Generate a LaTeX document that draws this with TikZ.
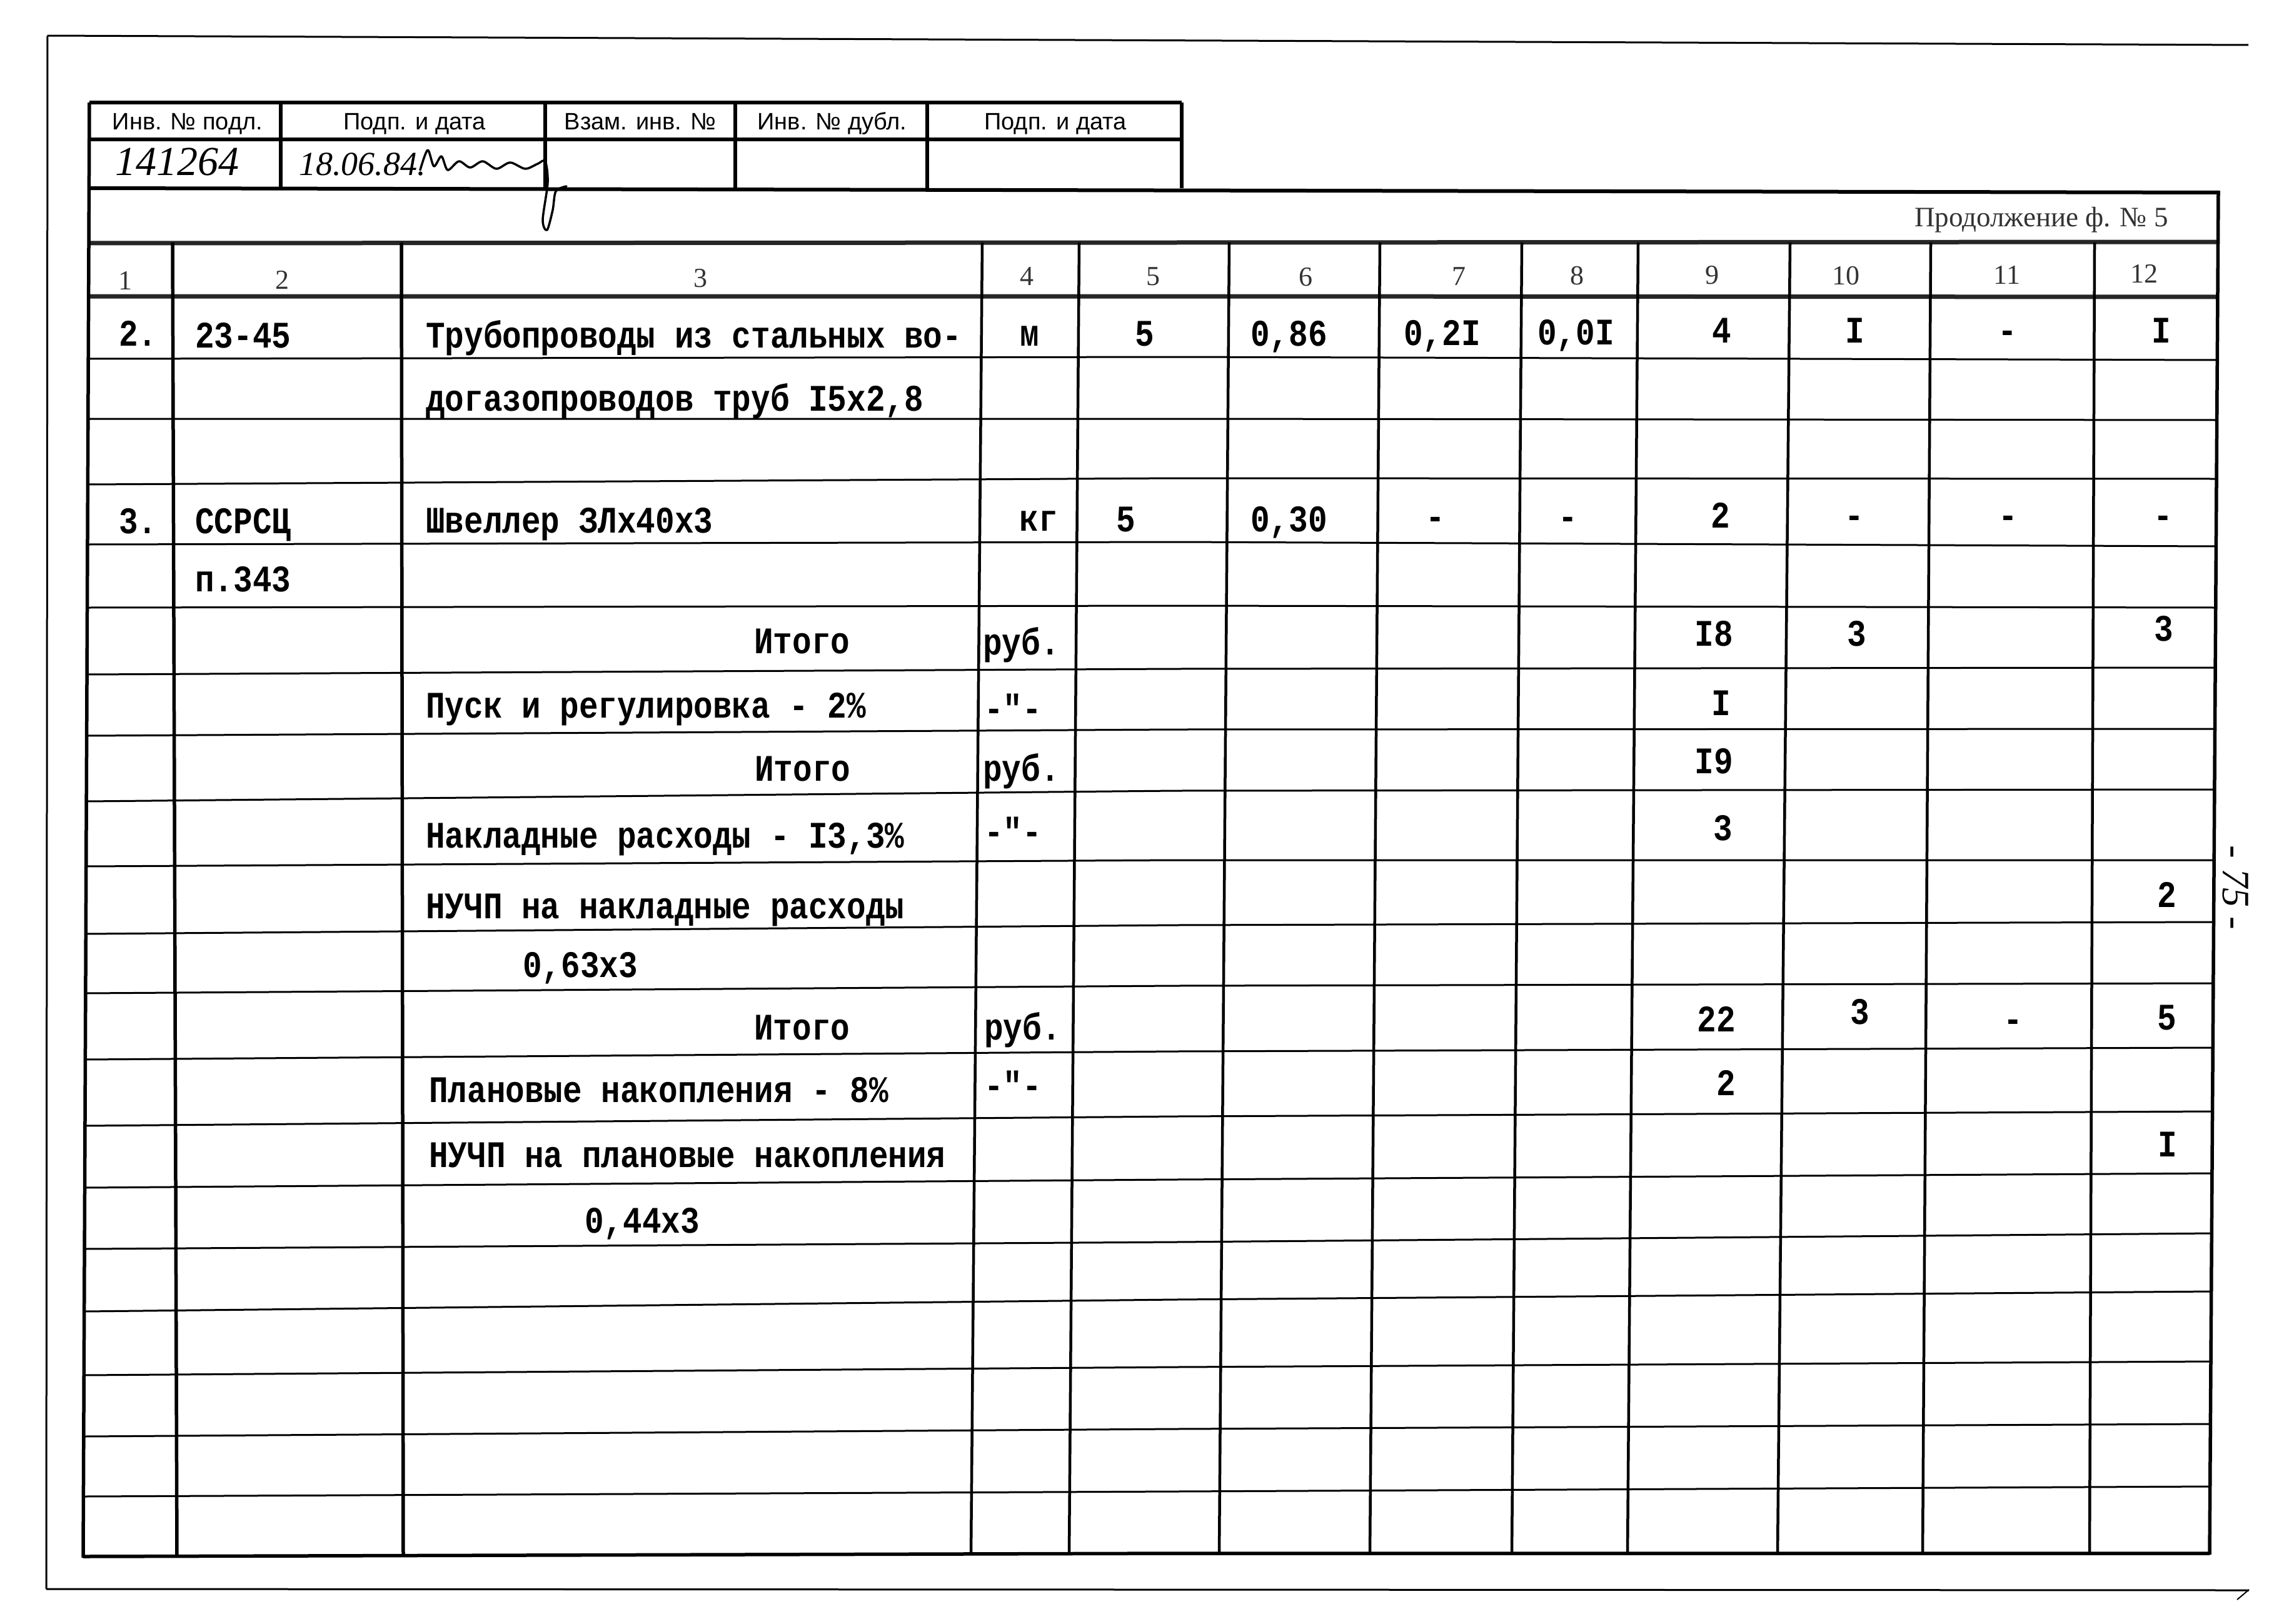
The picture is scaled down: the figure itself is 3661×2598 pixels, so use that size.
\documentclass[tikz,border=0pt]{standalone}
\usepackage{fontspec}
\newfontfamily\twfam[FakeStretch=0.85]{Liberation Mono}
\newfontfamily\stampfam{Liberation Sans}
\newfontfamily\handfam{Liberation Serif}
\newcommand\fTW{\twfam\bfseries\fontsize{60}{60}\selectfont}
\newcommand\fHN{\handfam\fontsize{44}{44}\selectfont}
\newcommand\fPR{\handfam\fontsize{45}{46}\selectfont}
\newcommand\fST{\stampfam\fontsize{38}{38}\selectfont}
\newcommand\fHW{\handfam\itshape\fontsize{66}{66}\selectfont}
\newcommand\fHWs{\handfam\itshape\fontsize{54}{54}\selectfont}
\newcommand\fPG{\handfam\itshape\fontsize{62}{62}\selectfont}
\begin{document}
\begin{tikzpicture}[x=1pt,y=-1pt,
  tw/.style={inner sep=0pt,font=\fTW},
  bw/.style={tw,anchor=base west},
  bc/.style={tw,anchor=base},
  hnum/.style={inner sep=0pt,anchor=base,font=\fHN,text=black!80},
  st/.style={inner sep=0pt,anchor=base,font=\fST},
  frameline/.style={line width=3pt},
  stampline/.style={line width=6pt},
  headline/.style={line width=7pt,black!85},
  border/.style={line width=5.5pt},
  vgrid/.style={line width=4.5pt},
  hgrid/.style={line width=3pt},
  hwline/.style={line width=3.5pt,line cap=round,line join=round}]
\path[use as bounding box,fill=white] (0,0) rectangle (3661,2598);

% outer page frame
\draw[frameline] (76,57) -- (3596,72);
\draw[frameline] (76,57) -- (74,2542);
\draw[frameline] (74,2542) -- (3597,2544);
\draw[line width=2pt] (3578,2559) -- (3597,2543);

% stamp
\draw[stampline] (143,164) -- (1890,164);
\draw[stampline] (143,223) -- (1890,223);
\foreach \x in {448.5,872,1176,1483,1890} \draw[stampline] (\x,164) -- (\x,301);
\draw[stampline] (143,301) -- (3548,308);

% header lines
\draw[headline] (143,389) -- (1880,388) -- (3548,387);
\draw[headline] (142,474) -- (1880,474) -- (3547,475);

% row lines
\foreach \yl/\ym/\yr in {574/571/576,670/670/672,775/765/766,871/867/874,972/969/972,
  1079/1070/1068,1177/1167/1166,1282/1265/1263,1386/1376/1376,1494/1480/1475,
  1589/1577/1573,1695/1682/1676,1801/1786/1778,1900/1887/1877,1998/1987/1973,
  2098/2079/2066,2200/2187/2178,2298/2286/2278,2394/2386/2378}
  \draw[hgrid] ({143-0.00457*(\yl-300)},\yl) -- (1880,\ym) -- ({3548-0.00643*(\yr-308)},\yr);
\draw[border] (133,2490) -- (1880,2485) -- (3534,2485);

% vertical lines
\foreach \xt/\xb in {1571/1553,1726/1710,1966/1950,2207/2191,2434/2418,2620/2603,2863/2843,3088/3075,3350/3342}
  \draw[vgrid] (\xt,388) -- (\xb,2487);
\draw[border] (276,388) -- (283,2490);
\draw[border] (642,388) -- (645,2489);
\draw[border] (143,164) -- (133,2492);
\draw[border] (3548,305) -- (3534,2487);

% stamp texts
\node[st] (s1) at (300,208) {Инв. № подл.};
\node[st] (s2) at (663,208) {Подп. и дата};
\node[st] (s3) at (1024,208) {Взам. инв. №};
\node[st] (s4) at (1331,208) {Инв. № дубл.};
\node[st] (s5) at (1688,208) {Подп. и дата};
\node[inner sep=0pt,anchor=base west,font=\fHW] (h1) at (184,280) {141264};
\node[inner sep=0pt,anchor=base west,font=\fHWs] (h2) at (478,280) {18.06.84.};
\draw[hwline] plot[smooth] coordinates {(672,272) (684,240) (694,266) (706,250) (716,272) (734,258) (752,268) (772,258) (794,270) (816,260) (840,270) (860,262) (872,258) (876,292) (868,352) (875,368) (884,336) (889,306) (906,298)};

% continuation label
\node[inner sep=0pt,anchor=base west,font=\fPR,text=black!80] (p0) at (3062,362) {Продолжение ф. № 5};

% column numbers
\node[hnum] (c1) at (200,463) {1};
\node[hnum] (c2) at (451,462) {2};
\node[hnum] (c3) at (1120,459) {3};
\node[hnum] (c4) at (1642,456) {4};
\node[hnum] (c5) at (1844,456) {5};
\node[hnum] (c6) at (2088,457) {6};
\node[hnum] (c7) at (2333,456) {7};
\node[hnum] (c8) at (2522,455) {8};
\node[hnum] (c9) at (2738,454) {9};
\node[hnum] (c10) at (2952,455) {10};
\node[hnum] (c11) at (3210,454) {11};
\node[hnum] (c12) at (3429,452) {12};

% row A / B
\node[bw] (a1) at (190,553) {2.};
\node[bw] (a2) at (312,556) {23-45};
\node[bw] (a3) at (681,556) {Трубопроводы из стальных во-};
\node[bc] (a4) at (1647,553) {м};
\node[bc] (a5) at (1831,553) {5};
\node[bw] (a6) at (2000,553) {0,86};
\node[bw] (a7) at (2245,552) {0,2I};
\node[bw] (a8) at (2459,551) {0,0I};
\node[bc] (a9) at (2754,548) {4};
\node[bc] (a10) at (2967,548) {I};
\node[bc] (a11) at (3211,548) {-};
\node[bc] (a12) at (3457,548) {I};
\node[bw] (b3) at (681,657) {догазопроводов труб I5x2,8};

% row D / E
\node[bw] (d1) at (190,853) {3.};
\node[bw] (d2) at (312,853) {ССРСЦ};
\node[bw] (d3) at (681,852) {Швеллер ЗЛx40x3};
\node[bc] (d4) at (1661,849) {кг};
\node[bc] (d5) at (1801,850) {5};
\node[bw] (d6) at (2000,850) {0,30};
\node[bc] (d7) at (2296,846) {-};
\node[bc] (d8) at (2508,846) {-};
\node[bc] (d9) at (2752,844) {2};
\node[bc] (d10) at (2966,844) {-};
\node[bc] (d11) at (3212,844) {-};
\node[bc] (d12) at (3460,844) {-};
\node[bw] (e2) at (312,946) {п.343};

% totals
\node[bw] (f3) at (1206,1045) {Итого};
\node[bw] (f4) at (1572,1047) {руб.};
\node[bc] (f9) at (2741,1033) {I8};
\node[bc] (f10) at (2970,1033) {3};
\node[bc] (f12) at (3461,1025) {3};

\node[bw] (g3) at (681,1148) {Пуск и регулировка - 2\%};
\node[bw] (g4) at (1574,1153) {-"-};
\node[bc] (g9) at (2753,1144) {I};

\node[bw] (h3) at (1207,1249) {Итого};
\node[bw] (h4) at (1572,1249) {руб.};
\node[bc] (h9) at (2741,1237) {I9};

\node[bw] (i3) at (681,1356) {Накладные расходы - I3,3\%};
\node[bw] (i4) at (1574,1350) {-"-};
\node[bc] (i9) at (2756,1344) {3};

\node[bw] (j3) at (681,1469) {НУЧП на накладные расходы};
\node[bc] (j12) at (3466,1451) {2};
\node[bw] (k3) at (836,1563) {0,63x3};

\node[bw] (l3) at (1206,1663) {Итого};
\node[bw] (l4) at (1574,1663) {руб.};
\node[bc] (l9) at (2745,1650) {22};
\node[bc] (l10) at (2975,1638) {3};
\node[bc] (l11) at (3220,1650) {-};
\node[bc] (l12) at (3466,1647) {5};

\node[bw] (m3) at (686,1763) {Плановые накопления - 8\%};
\node[bw] (m4) at (1574,1756) {-"-};
\node[bc] (m9) at (2761,1752) {2};

\node[bw] (n3) at (686,1867) {НУЧП на плановые накопления};
\node[bc] (n12) at (3467,1850) {I};
\node[bw] (o3) at (935,1972) {0,44x3};

% page number
\node[inner sep=0pt,font=\fPG,rotate=-90] (pg) at (3575,1420) {- 75 -};
\end{tikzpicture}
\end{document}
